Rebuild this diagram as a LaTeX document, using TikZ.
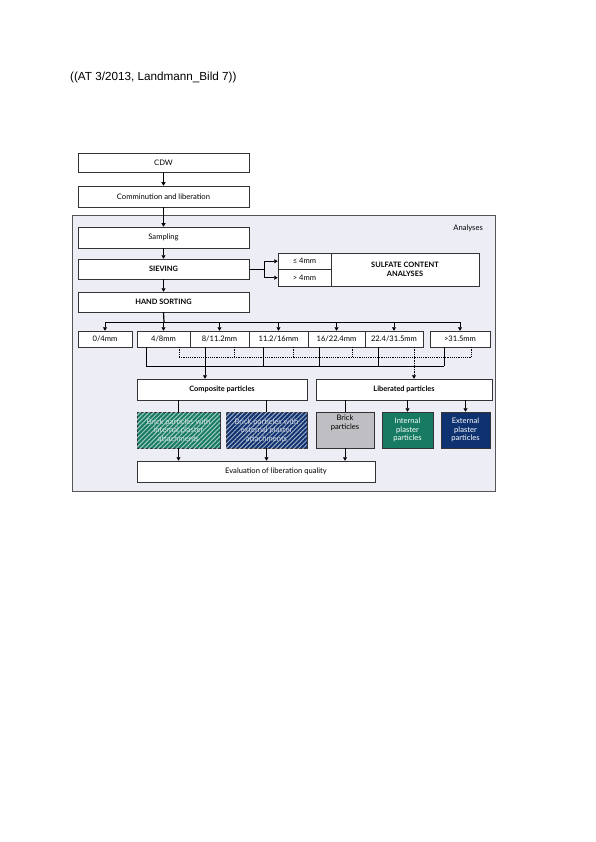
\documentclass[tikz,border=0pt]{standalone}
\usepackage{fontspec}
\setmainfont{Lato}
\newfontfamily\hdrfont{Liberation Sans}
\usetikzlibrary{arrows.meta,patterns.meta,calc}
\definecolor{framefill}{HTML}{EDEDF5}
\definecolor{framedraw}{HTML}{555555}
\definecolor{pgreen}{HTML}{167B62}
\definecolor{pblue}{HTML}{0E3170}
\definecolor{pgrey}{HTML}{BEBEC3}
\tikzset{
  box/.style={draw=black!80, line width=0.5pt, fill=white, inner sep=1pt, align=center, font=\fontsize{7.6}{8.6}\selectfont},
  boldbox/.style={box, font=\fontsize{7.4}{8.6}\selectfont\bfseries},
  conn/.style={line width=0.6pt, draw=black},
  arr/.style={conn, -{Triangle[length=3.5pt,width=4pt]}},
  dconn/.style={line width=0.6pt, draw=black, dash pattern=on 1.2pt off 1pt},
  darr/.style={dconn, -{Triangle[length=3.5pt,width=4pt]}},
  hatchgreen/.style={box, fill=pgreen, text=white!80!pgreen, postaction={pattern={Lines[angle=45,distance=3.2pt,line width=1pt]}, pattern color=white!60!pgreen}},
  hatchblue/.style={box, fill=pblue, text=white!80!pblue, postaction={pattern={Lines[angle=45,distance=3.2pt,line width=1pt]}, pattern color=white!60!pblue}},
}
\begin{document}
\begin{tikzpicture}[x=1pt,y=-1pt]
\useasboundingbox (0,0) rectangle (595,842);
\fill[white] (0,0) rectangle (595,842);
\node[font=\hdrfont\fontsize{11.7}{13}\selectfont, anchor=west, inner sep=0pt] (hdr) at (70,77) {((AT 3/2013, Landmann\_Bild 7))};
% frame
\draw[draw=framedraw, line width=0.9pt, fill=framefill] (72,215) rectangle (495,491);
\node[font=\fontsize{7.6}{8.6}\selectfont, anchor=east, inner sep=0pt] (analyses) at (483,228) {Analyses};
% top boxes
\node[box, minimum width=171pt, minimum height=19pt] (cdw) at (163.5,162.5) {CDW};
\node[box, minimum width=171pt, minimum height=21pt] (comm) at (163.5,196.5) {Comminution and liberation};
\node[box, minimum width=171pt, minimum height=21pt] (samp) at (163.5,237.5) {Sampling};
\node[boldbox, minimum width=171pt, minimum height=20pt] (siev) at (163.5,269) {SIEVING};
\node[boldbox, minimum width=171pt, minimum height=20pt] (hand) at (163.5,302) {HAND SORTING};
% sulfate
\node[box, minimum width=53pt, minimum height=16.5pt] (le4) at (304.5,261.25) {≤ 4mm};
\node[box, minimum width=53pt, minimum height=16.5pt] (gt4) at (304.5,277.75) {> 4mm};
\node[boldbox, minimum width=148pt, minimum height=33pt] (sulf) at (405,269.5) {SULFATE CONTENT\\ANALYSES};
% size classes
\node[box, minimum width=54pt, minimum height=16pt] (s04) at (105,339) {0/4mm};
\node[box, minimum width=53pt, minimum height=16pt] (s48) at (163.5,339) {4/8mm};
\node[box, minimum width=59pt, minimum height=16pt] (s811) at (219.5,339) {8/11.2mm};
\node[box, minimum width=59pt, minimum height=16pt] (s1116) at (278.5,339) {11.2/16mm};
\node[box, minimum width=57pt, minimum height=16pt] (s1622) at (336.5,339) {16/22.4mm};
\node[box, minimum width=58pt, minimum height=16pt] (s2231) at (394,339) {22.4/31.5mm};
\node[box, minimum width=60pt, minimum height=16pt] (s31) at (460,339) {>31.5mm};
% particle groups
\node[boldbox, minimum width=170pt, minimum height=21pt] (comp) at (222,389.5) {Composite particles};
\node[boldbox, minimum width=176pt, minimum height=21pt] (lib) at (404,389.5) {Liberated particles};
\node[hatchgreen, minimum width=83pt, minimum height=36pt] (bint) at (178.5,430) {Brick particles with\\internal plaster\\attachments};
\node[hatchblue, minimum width=81pt, minimum height=36pt] (bext) at (266.5,430) {Brick particles with\\external plaster\\attachments};
\node[box, fill=pgrey, minimum width=58pt, minimum height=36pt] (brick) at (345,430) {Brick\\particles\\[7pt]};
\node[box, fill=pgreen, text=white, minimum width=51pt, minimum height=36pt] (intp) at (407.5,430) {Internal\\plaster\\particles};
\node[box, fill=pblue, text=white, minimum width=49pt, minimum height=36pt] (extp) at (465.5,430) {External\\plaster\\particles};
\node[box, minimum width=238pt, minimum height=21pt] (eval) at (256,471.5) {\hspace*{40pt}Evaluation of liberation quality};
% top chain
\draw[arr] (cdw.south) -- (comm.north);
\draw[arr] (comm.south) -- (samp.north);
\draw[arr] (samp.south) -- (siev.north);
\draw[arr] (siev.south) -- (hand.north);
% sieving split
\coordinate (sj) at (264,269);
\draw[conn] (siev.east) -- (sj);
\draw[arr] (sj) |- (le4.west);
\draw[arr] (sj) |- (gt4.west);
% hand sorting distribution
\coordinate (hj) at (164,322);
\draw[line width=1.2pt] (hand.south) -- (hj);
\draw[conn] (s04.north |- hj) -- (s31.north |- hj);
\foreach \n in {s04,s48,s811,s1116,s1622,s2231,s31}
  \draw[arr] (\n.north |- hj) -- (\n.north);
% solid collection to composite
\coordinate (sc) at (146,366);
\coordinate (sce) at (444,366);
\draw[conn] (sc) -- (sce);
\draw[conn] (s48.south -| sc) -- (sc);
\draw[conn] ([xshift=-14.5pt]s811.south) -- ++(0,19);
\draw[conn] ([xshift=-15.5pt]s1116.south) -- ++(0,19);
\draw[conn] ([xshift=-17.5pt]s1622.south) -- ++(0,19);
\draw[conn] ([xshift=-16pt]s2231.south) -- ++(0,19);
\draw[conn] (s31.south -| sce) -- (sce);
\draw[arr] ([xshift=-14.5pt]s811.south) ++(0,19) -- ([xshift=-17pt]comp.north);
% dashed collection to liberated
\coordinate (dc) at (179,357.5);
\coordinate (dce) at (471,357.5);
\draw[dconn] (dc) -- (dce);
\draw[dconn] (s48.south -| dc) -- (dc);
\draw[dconn] ([xshift=14.5pt]s811.south) -- ++(0,10.5);
\draw[dconn] ([xshift=14.5pt]s1116.south) -- ++(0,10.5);
\draw[dconn] ([xshift=15.5pt]s1622.south) -- ++(0,10.5);
\draw[dconn] (s31.south -| dce) -- (dce);
\draw[darr] ([xshift=20pt]s2231.south) -- ([xshift=10pt]lib.north);
% composite/liberated to particle types
\draw[conn] (comp.south -| bint) -- (bint.north);
\draw[conn] (comp.south -| bext) -- (bext.north);
\draw[conn] (lib.south -| brick) -- (brick.north);
\draw[arr] (lib.south -| intp) -- (intp.north);
\draw[arr] (lib.south -| extp) -- (extp.north);
% to evaluation
\draw[arr] (bint.south) -- (bint.south |- eval.north);
\draw[arr] (bext.south) -- (bext.south |- eval.north);
\draw[arr] (brick.south) -- (brick.south |- eval.north);
\end{tikzpicture}
\end{document}
